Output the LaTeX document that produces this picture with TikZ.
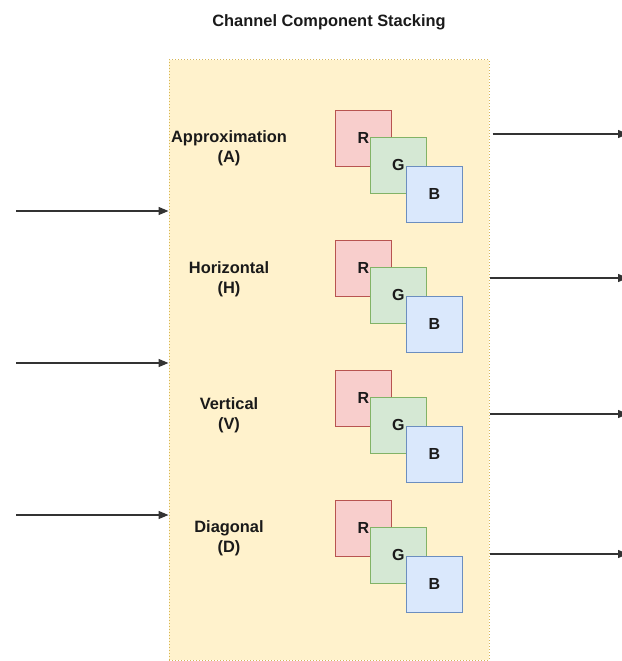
\documentclass[tikz,border=0pt]{standalone}
\usepackage{fontspec}
\setmainfont{Liberation Sans}
\usetikzlibrary{arrows.meta}
\definecolor{boxfill}{HTML}{FFF2CC}
\definecolor{boxline}{HTML}{D6B656}
\definecolor{rfill}{HTML}{F8CECC}
\definecolor{rline}{HTML}{B85450}
\definecolor{gfill}{HTML}{D5E8D4}
\definecolor{gline}{HTML}{82B366}
\definecolor{bfill}{HTML}{DAE8FC}
\definecolor{bline}{HTML}{6C8EBF}
\definecolor{arrowgray}{HTML}{333333}
\definecolor{textgray}{HTML}{1A1A1A}
\tikzset{
  container/.style={draw=boxline, fill=boxfill, dotted, line width=1pt,
    minimum width=320pt, minimum height=600pt, inner sep=0pt},
  chan/.style={draw=#1line, fill=#1fill, line width=0.9pt,
    minimum width=56pt, minimum height=56pt, inner sep=0pt,
    text=textgray, font=\bfseries\fontsize{16pt}{18pt}\selectfont},
  label/.style={align=center, text=textgray,
    font=\bfseries\fontsize{16.4pt}{20pt}\selectfont},
  arr/.style={draw=arrowgray, line width=1.3pt, -{Triangle[length=10pt,width=8pt]}},
}
\begin{document}
\begin{tikzpicture}[x=1pt, y=-1pt]
\useasboundingbox (0,0) rectangle (621,661);

\node[text=textgray, font=\bfseries\fontsize{16.4pt}{18pt}\selectfont] (title) at (329,22) {Channel Component Stacking};

\node[container] (box) at (329,360) {};

% four sub-band rows, each with stacked R/G/B channel squares
\foreach \i/\yt/\name/\lab/\ly in {
  1/110/Approximation/A/148,
  2/240/Horizontal/H/279,
  3/370/Vertical/V/415,
  4/500/Diagonal/D/538} {
  \node[label] (lab\i) at (229,\ly) {\name\\(\lab)};
  \node[chan=r, anchor=north west] (r\i) at (335,\yt) {R};
  \node[chan=g, anchor=north west] (g\i) at (370,\yt+27) {G};
  \node[chan=b, anchor=north west] (b\i) at (406,\yt+56) {B};
}

% incoming arrows
\coordinate (in1) at (16,211);
\coordinate (in2) at (16,363);
\coordinate (in3) at (16,515);
\foreach \k in {1,2,3} \draw[arr] (in\k) -- (in\k -| box.west);

% outgoing arrows
\coordinate (out1) at (628,134);
\coordinate (out2) at (628,278);
\coordinate (out3) at (628,414);
\coordinate (out4) at (628,554);
\draw[arr] ([xshift=3pt]box.east |- out1) -- (out1);
\foreach \k in {2,3,4} \draw[arr] (box.east |- out\k) -- (out\k);
\end{tikzpicture}
\end{document}
